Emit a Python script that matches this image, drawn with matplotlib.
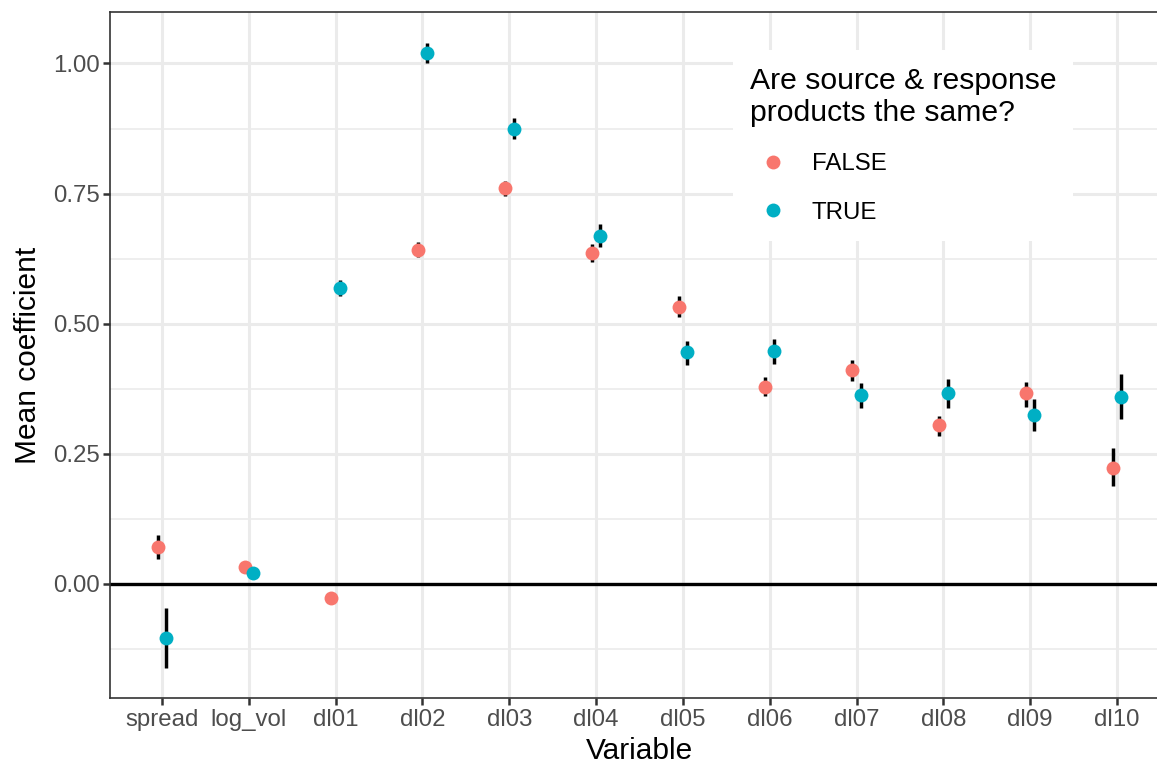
import matplotlib
matplotlib.use("Agg")
import matplotlib.pyplot as plt
import numpy as np
from matplotlib.ticker import FixedLocator

plt.rcParams["font.family"] = ["Liberation Sans", "DejaVu Sans"]

VARIABLES = ["spread", "log_vol", "dl01", "dl02", "dl03", "dl04",
             "dl05", "dl06", "dl07", "dl08", "dl09", "dl10"]

FALSE_MEAN = [0.071, 0.032, -0.027, 0.641, 0.761, 0.635,
              0.532, 0.378, 0.410, 0.304, 0.366, 0.223]
FALSE_LOW = [0.047, 0.028, -0.031, 0.627, 0.746, 0.619,
             0.513, 0.361, 0.390, 0.284, 0.340, 0.188]
FALSE_HIGH = [0.093, 0.036, -0.023, 0.656, 0.775, 0.652,
              0.552, 0.397, 0.430, 0.323, 0.388, 0.260]

TRUE_MEAN = [-0.104, 0.021, 0.569, 1.021, 0.875, 0.668,
             0.445, 0.447, 0.362, 0.366, 0.324, 0.359]
TRUE_LOW = [-0.162, 0.018, 0.553, 1.000, 0.854, 0.647,
            0.420, 0.423, 0.338, 0.338, 0.294, 0.316]
TRUE_HIGH = [-0.047, 0.024, 0.584, 1.040, 0.896, 0.691,
             0.466, 0.470, 0.386, 0.393, 0.354, 0.403]

GROUPS = ["FALSE", "TRUE"]
COLORS = {"FALSE": "#F8766D", "TRUE": "#00AFC4"}

W, H = 1157, 765
fig = plt.figure(figsize=(W / 100, H / 100), dpi=100)
# panel runs past the right edge of the canvas, as in the reference
ax = fig.add_axes([110 / W, 67 / H, 1059 / W, 686 / H])

x = np.arange(len(VARIABLES))
dodge = 0.05
series = {
    "FALSE": (FALSE_MEAN, FALSE_LOW, FALSE_HIGH, -dodge),
    "TRUE": (TRUE_MEAN, TRUE_LOW, TRUE_HIGH, dodge),
}

ax.axhline(0, color="black", linewidth=2.4, zorder=2)

for group in GROUPS:
    mean, low, high, off = series[group]
    xs = x + off
    ax.vlines(xs, low, high, color="black", linewidth=2.5, zorder=3)
    ax.plot(xs, mean, linestyle="none", marker="o", markersize=10,
            markeredgewidth=0, color=COLORS[group], label=group, zorder=4)

ax.set_xlim(-0.6, len(VARIABLES) - 0.4)
ax.set_ylim(-0.220, 1.099)
ax.xaxis.set_major_locator(FixedLocator(x))
ax.set_xticklabels(VARIABLES)
ax.yaxis.set_major_locator(FixedLocator([0.0, 0.25, 0.5, 0.75, 1.0]))
ax.yaxis.set_minor_locator(FixedLocator([-0.125, 0.125, 0.375, 0.625, 0.875]))
ax.set_yticklabels(["0.00", "0.25", "0.50", "0.75", "1.00"])

ax.grid(True, which="major", color="#EBEBEB", linewidth=2.2, zorder=0)
ax.grid(True, which="minor", axis="y", color="#EBEBEB", linewidth=1.2, zorder=0)
ax.set_axisbelow(True)

for spine in ax.spines.values():
    spine.set_color("#333333")
    spine.set_linewidth(1.2)
ax.spines["right"].set_visible(False)

ax.tick_params(axis="both", which="major", length=5, width=1.8, color="#333333",
               labelsize=17.3, labelcolor="#4D4D4D", pad=3)
ax.tick_params(axis="y", which="major", pad=2)
ax.tick_params(axis="both", which="minor", length=0)

ax.set_xlabel("Variable", fontsize=21.5, labelpad=4.5)
ax.set_ylabel("Mean coefficient", fontsize=21.5, labelpad=8)

leg = ax.legend(
    title="Are source & response\nproducts the same?",
    title_fontsize=21.7,
    fontsize=17.3,
    loc="upper left",
    bbox_to_anchor=(0.5883, 0.945),
    borderaxespad=0,
    frameon=True,
    fancybox=False,
    framealpha=1.0,
    edgecolor="white",
    facecolor="white",
    borderpad=0.7,
    labelspacing=1.1,
    handlelength=1.9,
    handletextpad=0.68,
    alignment="left",
)
leg.get_frame().set_linewidth(0)
leg.get_title().set_linespacing(1.2)

fig.savefig("out.png", dpi=100)
